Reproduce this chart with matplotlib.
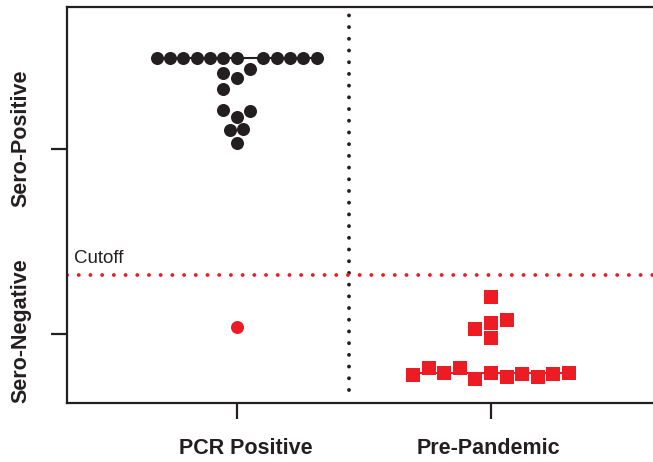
import matplotlib.pyplot as plt

# colours
black = '#231f20'
red = '#ed1c24'

# group positions and labels
groups = ['PCR Positive', 'Pre-Pandemic']
group_x = [1, 2]

# PCR positive: sero-positive points (offset in dot widths, value)
pcr_pos_off = [-6, -5, -4, -3, -2, -1, 0, 2, 3, 4, 5, 6,
               -1, 0, 1, -1, -1, 0, 1, -0.5, 0.5, 0]
pcr_pos_val = [87.1, 87.1, 87.1, 87.1, 87.1, 87.1, 87.1, 87.1, 87.1, 87.1, 87.1, 87.1,
               83.3, 82.1, 84.3, 79.3, 74.0, 72.2, 73.7, 68.9, 69.2, 65.7]
pcr_pos_median = 87.1

# PCR positive: sero-negative point
pcr_neg_off = [0]
pcr_neg_val = [19.3]

# pre-pandemic samples
pre_off = [0, -1, 0, 1, 0,
           -5, -4, -3, -2, -1, 0, 1, 2, 3, 4, 5]
pre_val = [26.8, 18.7, 20.2, 21.0, 16.4,
           7.1, 8.9, 7.6, 8.8, 6.1, 7.6, 6.6, 7.3, 6.6, 7.3, 7.5]
pre_median = 7.6

cutoff = 32.2
ytick_pos = [64.1, 17.4]
ytick_labels = ['Sero-Positive', 'Sero-Negative']

plt.rcParams['font.family'] = ['Liberation Sans', 'DejaVu Sans']

fig = plt.figure(figsize=(6.53, 4.62), dpi=100)
ax = fig.add_axes([67 / 653, 59 / 462, 586 / 653, 396 / 462])

dot_w = 0.0523
sq_w = 0.0613

# median lines
ax.plot([group_x[0] - 6 * dot_w, group_x[0] + 6 * dot_w], [pcr_pos_median] * 2,
        color=black, lw=1.5, zorder=2)
ax.plot([group_x[1] - 5 * sq_w, group_x[1] + 5 * sq_w], [pre_median] * 2,
        color=red, lw=1.5, zorder=2)

ax.scatter([group_x[0] + o * dot_w for o in pcr_pos_off], pcr_pos_val,
           s=88, marker='o', color=black, linewidths=0, zorder=3)
ax.scatter([group_x[0] + o * dot_w for o in pcr_neg_off], pcr_neg_val,
           s=88, marker='o', color=red, linewidths=0, zorder=3)
ax.scatter([group_x[1] + o * sq_w for o in pre_off], pre_val,
           s=95, marker='s', color=red, linewidths=0, zorder=3)

# divider and cutoff
ax.plot([1.4416, 1.4416], [3.3, 100], color=black, lw=2.8,
        linestyle=(0, (0.01, 3.0)), dash_capstyle='round', zorder=1, clip_on=False)
ax.plot([0.3327, 2.637], [cutoff, cutoff], color=red, lw=2.8,
        linestyle=(0, (0.01, 3.0)), dash_capstyle='round', zorder=2)
ax.text(0.362, cutoff + 2.2, 'Cutoff', fontsize=13.5, color=black, va='bottom')

ax.set_xlim(0.3327, 2.637)
ax.set_ylim(0, 100)

for s in ['left', 'top', 'bottom']:
    ax.spines[s].set_color(black)
    ax.spines[s].set_linewidth(1.6)
ax.spines['right'].set_visible(False)

ax.set_xticks(group_x)
ax.set_xticklabels([])
ax.set_yticks(ytick_pos)
ax.set_yticklabels([])
ax.tick_params(length=11.5, width=1.6, color=black)

# axis labels
fig.text(21 / 653, 1 - 138 / 462, ytick_labels[0], rotation=90, ha='center', va='center',
         fontsize=15.5, fontweight='bold', color=black)
fig.text(21 / 653, 1 - 331 / 462, ytick_labels[1], rotation=90, ha='center', va='center',
         fontsize=15.5, fontweight='bold', color=black)
fig.text(246 / 653, 1 - 449 / 462, groups[0], ha='center', va='center',
         fontsize=15.5, fontweight='bold', color=black)
fig.text(488 / 653, 1 - 449 / 462, groups[1], ha='center', va='center',
         fontsize=15.5, fontweight='bold', color=black)

fig.savefig('out.png', dpi=100)
